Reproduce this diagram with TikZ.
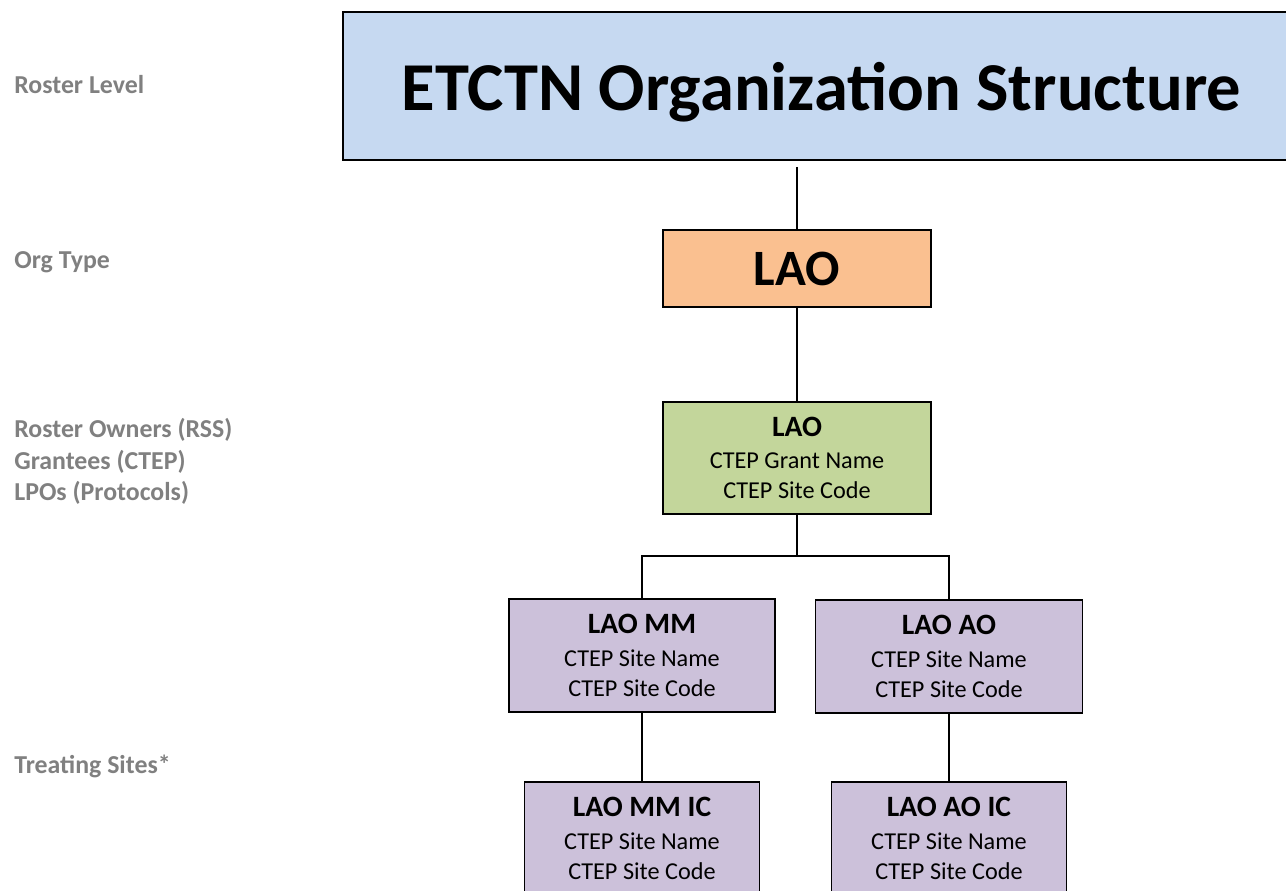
\documentclass[tikz,border=0pt]{standalone}
\usepackage{fontspec}
\setmainfont{Carlito}
\usetikzlibrary{calc}

\definecolor{titleblue}{HTML}{C6D9F1}
\definecolor{typeorange}{HTML}{FAC090}
\definecolor{ownergreen}{HTML}{C3D69B}
\definecolor{sitepurple}{HTML}{CCC1DA}
\definecolor{levelgray}{HTML}{808080}

\tikzset{
    box/.style={draw=black, line width=1pt, align=center, inner sep=0pt},
    site/.style={box, fill=sitepurple, minimum height=2.26cm,
        font=\fontsize{13.8}{17}\selectfont},
    level/.style={anchor=west, align=left, text=levelgray, inner sep=0pt,
        font=\fontsize{14.7}{17.8}\selectfont\bfseries},
    link/.style={line width=1pt}
}

\newcommand{\boxhead}[1]{{\fontsize{16.8}{20}\selectfont\bfseries #1}\\[1.5pt]}

\begin{document}
\begin{tikzpicture}
            \useasboundingbox (0,0) rectangle (25.72,-17.8);
            \clip (0,0) rectangle (25.72,-17.8);

            \node (title) at (16.43,-1.72) [box, fill=titleblue, minimum width=19.14cm, minimum height=2.96cm,
                text depth=0pt, font=\fontsize{39}{46}\selectfont\bfseries] {ETCTN Organization Structure};
            \node (lao) at (15.94,-5.37) [box, fill=typeorange, minimum width=5.36cm, minimum height=1.54cm,
                font=\fontsize{29}{34}\selectfont\bfseries] {LAO};
            \node (grant) at ($(lao) + (0,-3.79)$) [box, fill=ownergreen, minimum width=5.36cm, minimum height=2.24cm,
                font=\fontsize{13.8}{17}\selectfont] {\boxhead{LAO}CTEP Grant Name\\CTEP Site Code};

            \node (mm) at (12.84,-13.11) [site, minimum width=5.32cm] {\boxhead{LAO MM}CTEP Site Name\\CTEP Site Code};
            \node (ao) at ($(mm) + (6.14,-0.02)$) [site, minimum width=5.34cm] {\boxhead{LAO AO}CTEP Site Name\\CTEP Site Code};
            \node (mmic) at ($(mm) + (0,-3.66)$) [site, minimum width=4.70cm] {\boxhead{LAO MM IC}CTEP Site Name\\CTEP Site Code};
            \node (aoic) at ($(ao) + (0,-3.64)$) [site, minimum width=4.70cm] {\boxhead{LAO AO IC}CTEP Site Name\\CTEP Site Code};

            % left column
            \node (roster) at (0.28,-1.70) [level] {Roster Level};
            \node (orgtype) at (0.28,-5.24) [level] {Org Type};
            \node (owners) at (0.28,-9.23) [level] {Roster Owners (RSS)\\Grantees (CTEP)\\LPOs (Protocols)};
            \node (treating) at (0.28,-15.33) [level] {Treating Sites*};

            % connectors
            \coordinate (fork) at ($(grant.south) + (0,-0.82)$);
            \draw [link, shorten <=0.12cm] (title.south -| lao.north) -- (lao.north);
            \draw [link] (lao) -- (grant);
            \draw [link] (grant.south) -- (fork);
            \draw [link] (mm.north) |- (fork) -| (ao.north);
            \foreach \n/\m in {mm/mmic, ao/aoic}
                {
                    \draw [link] (\n.south) -- (\n.south |- \m.north);
                }

        \end{tikzpicture}
\end{document}
